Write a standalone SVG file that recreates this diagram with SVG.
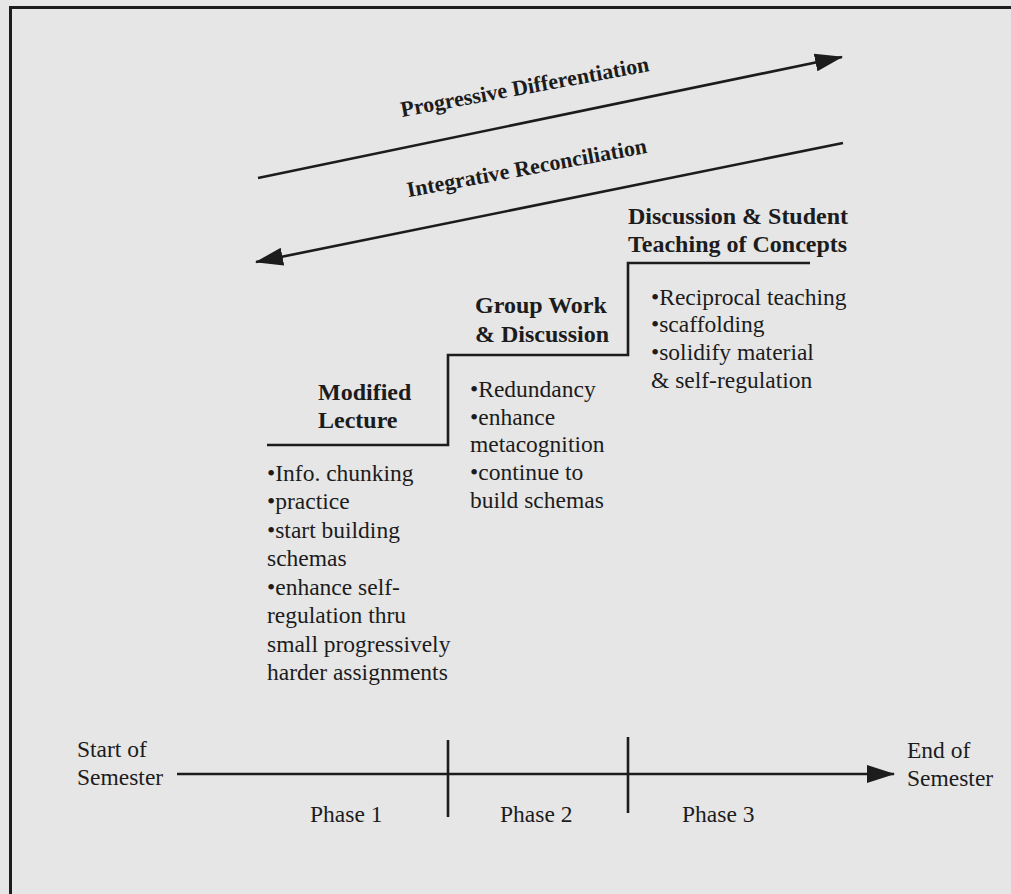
<svg xmlns="http://www.w3.org/2000/svg" width="1011" height="894" viewBox="0 0 1011 894">
  <style>
    .bg { fill: #e6e6e6; }
    .frame { fill: none; stroke: #1c1c1c; stroke-width: 3; }
    .ln { fill: none; stroke: #1c1c1c; stroke-width: 2.6; stroke-linecap: butt; }
    .txt { font-family: "Liberation Serif", "Times New Roman", serif; font-size: 23.5px; fill: #1c1c1c; }
    .head { font-family: "Liberation Serif", "Times New Roman", serif; font-size: 24px; font-weight: bold; fill: #1c1c1c; }
    .trend { font-family: "Liberation Serif", "Times New Roman", serif; font-size: 22px; font-weight: bold; fill: #1c1c1c; }
  </style>
  <defs>
    <marker id="head" viewBox="0 0 28 18" refX="27" refY="9" markerWidth="28" markerHeight="18" markerUnits="userSpaceOnUse" orient="auto-start-reverse">
      <path d="M0,0 L28,9 L0,18 Z" fill="#1c1c1c"/>
    </marker>
  </defs>

  <!-- page and frame -->
  <rect class="bg" x="0" y="0" width="1011" height="894"/>
  <path class="frame" d="M10.5,894 V7.5 H1011"/>

  <g id="connectors">
    <!-- learning trend arrows -->
    <line class="ln" x1="258" y1="178" x2="842" y2="57" marker-end="url(#head)"/>
    <line class="ln" x1="256" y1="262" x2="843" y2="143" marker-start="url(#head)"/>
    <!-- phase steps -->
    <polyline class="ln" points="267,445 448,445 448,355 628,355 628,263 810,263"/>
    <!-- semester timeline -->
    <line class="ln" x1="177" y1="774" x2="894" y2="774" marker-end="url(#head)"/>
    <line class="ln" x1="448" y1="740" x2="448" y2="817"/>
    <line class="ln" x1="628" y1="737" x2="628" y2="813"/>
  </g>

  <g id="progressive-differentiation">
    <text class="trend" x="526" y="94" text-anchor="middle" transform="rotate(-10.5 526 94)">Progressive Differentiation</text>
  </g>
  <g id="integrative-reconciliation">
    <text class="trend" x="528" y="175" text-anchor="middle" transform="rotate(-10.5 528 175)">Integrative Reconciliation</text>
  </g>

  <g id="modified-lecture">
    <text class="head" x="318" y="400">Modified</text>
    <text class="head" x="318" y="428">Lecture</text>
    <text class="txt" x="267" y="481">•Info. chunking</text>
    <text class="txt" x="267" y="509">•practice</text>
    <text class="txt" x="267" y="538">•start building</text>
    <text class="txt" x="267" y="566">schemas</text>
    <text class="txt" x="267" y="595">•enhance self-</text>
    <text class="txt" x="267" y="623">regulation thru</text>
    <text class="txt" x="267" y="652">small progressively</text>
    <text class="txt" x="267" y="680">harder assignments</text>
  </g>

  <g id="group-work">
    <text class="head" x="475" y="313">Group Work</text>
    <text class="head" x="475" y="342">&amp; Discussion</text>
    <text class="txt" x="470" y="397">•Redundancy</text>
    <text class="txt" x="470" y="425">•enhance</text>
    <text class="txt" x="470" y="452">metacognition</text>
    <text class="txt" x="470" y="480">•continue to</text>
    <text class="txt" x="470" y="508">build schemas</text>
  </g>

  <g id="discussion-teaching">
    <text class="head" x="628" y="224">Discussion &amp; Student</text>
    <text class="head" x="628" y="252">Teaching of Concepts</text>
    <text class="txt" x="651" y="305">•Reciprocal teaching</text>
    <text class="txt" x="651" y="332">•scaffolding</text>
    <text class="txt" x="651" y="360">•solidify material</text>
    <text class="txt" x="651" y="388">&amp; self-regulation</text>
  </g>

  <g id="start-of-semester">
    <text class="txt" x="77" y="757">Start of</text>
    <text class="txt" x="77" y="785">Semester</text>
  </g>
  <g id="end-of-semester">
    <text class="txt" x="907" y="758">End of</text>
    <text class="txt" x="907" y="786">Semester</text>
  </g>
  <g id="phase-1"><text class="txt" x="310" y="822">Phase 1</text></g>
  <g id="phase-2"><text class="txt" x="500" y="822">Phase 2</text></g>
  <g id="phase-3"><text class="txt" x="682" y="822">Phase 3</text></g>
</svg>
